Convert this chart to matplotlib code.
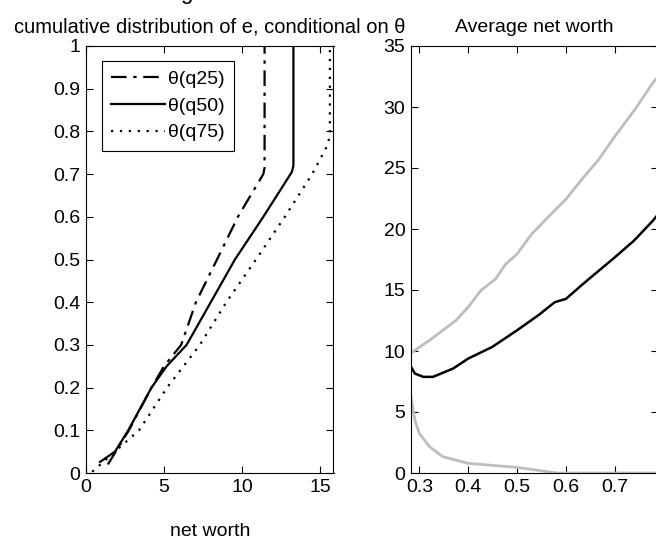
import numpy as np
import matplotlib
matplotlib.use("Agg")
import matplotlib.pyplot as plt

plt.rcParams['font.family'] = ['Liberation Sans', 'DejaVu Sans']
plt.rcParams['font.size'] = 14

# left panel: cumulative distribution (x = net worth, y = probability)
p_q25 = [0.02, 0.1, 0.2, 0.25, 0.3, 0.4, 0.5, 0.6, 0.7, 0.715, 1.0]
nw_q25 = [1.4, 2.75, 4.2, 5.0, 6.1, 7.05, 8.4, 9.74, 11.37, 11.45, 11.45]

p_q50 = [0.026, 0.05, 0.1, 0.2, 0.25, 0.3, 0.4, 0.5, 0.6, 0.705, 0.72, 1.0]
nw_q50 = [0.9, 1.86, 2.71, 4.2, 5.17, 6.45, 8.0, 9.55, 11.37, 13.2, 13.3, 13.3]

p_q75 = [0.003, 0.1, 0.2, 0.3, 0.4, 0.5, 0.6, 0.7, 0.765, 0.79, 1.0]
nw_q75 = [0.4, 3.4, 5.2, 7.3, 9.0, 10.9, 12.75, 14.5, 15.45, 15.64, 15.64]

# right panel: average net worth
x_hi = [0.283, 0.321, 0.375, 0.4, 0.426, 0.456, 0.476, 0.5, 0.53, 0.563,
        0.6, 0.635, 0.665, 0.7, 0.739, 0.778, 0.79]
y_hi = [9.84, 10.88, 12.51, 13.6, 14.97, 15.9, 17.1, 17.96, 19.6, 20.96,
        22.46, 24.2, 25.6, 27.6, 29.7, 32.0, 32.6]

x_mid = [0.283, 0.291, 0.308, 0.328, 0.369, 0.4, 0.449, 0.5, 0.543, 0.577,
         0.6, 0.631, 0.7, 0.739, 0.778, 0.79]
y_mid = [8.70, 8.15, 7.88, 7.88, 8.56, 9.38, 10.33, 11.7, 12.92, 14.0,
         14.28, 15.37, 17.69, 19.05, 20.7, 21.3]

x_lo = [0.283, 0.291, 0.3, 0.321, 0.348, 0.4, 0.5, 0.537, 0.583, 0.79]
y_lo = [6.24, 4.33, 3.24, 2.15, 1.34, 0.79, 0.46, 0.25, 0.0, 0.0]

W, H = 656, 549
fig = plt.figure(figsize=(W / 100, H / 100), dpi=100)

def px_axes(x0, x1, y0, y1):
    # pixel box -> figure fraction (y measured from top)
    return fig.add_axes([x0 / W, 1 - y1 / H, (x1 - x0) / W, (y1 - y0) / H])

ax1 = px_axes(86, 333.5, 46, 473)
ax2 = px_axes(411, 658, 46, 473)

for ax in (ax1, ax2):
    ax.tick_params(direction='in', length=5, width=0.8, top=True, right=True,
                   labelsize=14, pad=4)
    for s in ax.spines.values():
        s.set_linewidth(0.8)

ax1.plot(nw_q25, p_q25, color='black', lw=1.6, dashes=(7, 3, 1.5, 3), label='θ(q25)')
ax1.plot(nw_q50, p_q50, color='black', lw=1.6, ls='-', label='θ(q50)')
ax1.plot(nw_q75, p_q75, color='black', lw=1.6, dashes=(1, 3), label='θ(q75)')
ax1.set_xlim(0, 15.87)
ax1.set_ylim(0, 1)
ax1.set_xticks([0, 5, 10, 15])
ax1.set_yticks(np.arange(0, 1.01, 0.1))
ax1.set_yticklabels(['0', '0.1', '0.2', '0.3', '0.4', '0.5', '0.6', '0.7', '0.8', '0.9', '1'])
ax1.set_xlabel('net worth', labelpad=20)
ax1.set_title('cumulative distribution of e, conditional on θ', fontsize=14.5, pad=10)
leg = ax1.legend(loc='upper left', bbox_to_anchor=(0.063, 0.965), borderaxespad=0,
                 fancybox=False, edgecolor='black', framealpha=1, fontsize=14,
                 handlelength=2.75, handletextpad=0.15, labelspacing=0.46,
                 borderpad=0.5)
leg.get_frame().set_linewidth(0.8)

ax2.plot(x_hi, y_hi, color='#bdbdbd', lw=2)
ax2.plot(x_lo, y_lo, color='#bdbdbd', lw=2)
ax2.plot(x_mid, y_mid, color='black', lw=1.8)
ax2.set_xlim(0.283, 0.788)
ax2.set_ylim(0, 35)
ax2.set_xticks([0.3, 0.4, 0.5, 0.6, 0.7])
ax2.set_xticklabels(['0.3', '0.4', '0.5', '0.6', '0.7'])
ax2.set_yticks(np.arange(0, 36, 5))
ax2.set_title('Average net worth', fontsize=14, pad=10)

# fragment of the heading above the crop
fig.text(180 / W, 1 + 1 / H, 'g', fontsize=16, va='baseline', ha='left')

fig.savefig('out.png', dpi=100)
